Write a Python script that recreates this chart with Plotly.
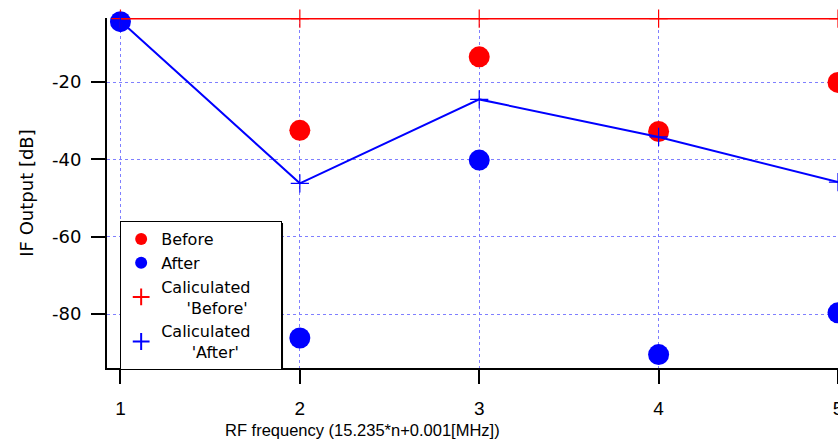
import plotly.graph_objects as go

x_n = [1, 2, 3, 4, 5]
before = [-3.1, -32.5, -13.5, -32.8, -20.1]
after = [-4.4, -86.2, -40.2, -90.5, -79.7]
calc_before = [-3.6, -3.6, -3.6, -3.6, -3.6]
calc_after = [-4.2, -46.2, -24.5, -34.2, -45.9]

y_ticks = [-80, -60, -40, -20]
y_tick_text = ["-80", "-60", "-40", "-20"]
x_ticks = [1, 2, 3, 4, 5]

RED = "#ff0000"
BLUE = "#0000ff"
NB = "\u00a0"
SANS = "Liberation Sans, Arial, sans-serif"

fig = go.Figure()
fig.add_trace(go.Scatter(x=x_n, y=before, mode="markers", name="Before" + NB * 5,
                         marker=dict(color=RED, size=21), cliponaxis=False))
fig.add_trace(go.Scatter(x=x_n, y=after, mode="markers", name="After",
                         marker=dict(color=BLUE, size=21), cliponaxis=False))
fig.add_trace(go.Scatter(x=x_n, y=calc_before, mode="lines+markers", showlegend=False,
                         line=dict(color=RED, width=2),
                         marker=dict(symbol="cross-thin-open", size=13, color=RED,
                                     line=dict(color=RED, width=1.2)),
                         cliponaxis=False))
fig.add_trace(go.Scatter(x=x_n, y=calc_after, mode="lines+markers", showlegend=False,
                         line=dict(color=BLUE, width=2),
                         marker=dict(symbol="cross-thin-open", size=13, color=BLUE,
                                     line=dict(color=BLUE, width=1.2)),
                         cliponaxis=False))
# legend-only entries for the calculated series
fig.add_trace(go.Scatter(x=[None], y=[None], mode="markers",
                         name="Caliculated" + NB * 5 + "<br>" + NB * 5 + "'Before'",
                         marker=dict(symbol="cross-thin-open", size=14, color=RED,
                                     line=dict(color=RED, width=2))))
fig.add_trace(go.Scatter(x=[None], y=[None], mode="markers",
                         name="Caliculated<br>" + NB * 6 + "'After'",
                         marker=dict(symbol="cross-thin-open", size=14, color=BLUE,
                                     line=dict(color=BLUE, width=2))))

axis_common = dict(
    showline=True, linecolor="black", linewidth=2,
    ticks="outside", ticklen=14, tickwidth=2, tickcolor="black",
    showgrid=True, gridcolor="#7f7fff", gridwidth=1, griddash="dot",
    zeroline=False, automargin=False,
)

fig.update_layout(
    width=838, height=445,
    margin=dict(l=107, r=0, t=18, b=77),
    paper_bgcolor="white", plot_bgcolor="white",
    showlegend=True,
    legend=dict(
        x=0.018, y=0.42, xanchor="left", yanchor="top",
        bgcolor="white", bordercolor="black", borderwidth=1,
        font=dict(family="DejaVu Sans", size=16, color="black"),
        itemsizing="constant", tracegroupgap=0, itemwidth=30,
    ),
    xaxis=dict(
        range=[0.925, 5.0], tickvals=x_ticks,
        tickfont=dict(family=SANS, size=19, color="black"),
        ticklabelstandoff=8, ticklabeloverflow="allow",
        **axis_common,
    ),
    yaxis=dict(
        range=[-93.96, -3.45], tickvals=y_ticks, ticktext=y_tick_text,
        tickfont=dict(family="DejaVu Sans", size=18, color="black"),
        ticklabelstandoff=6,
        title=dict(text="IF Output [dB]",
                   font=dict(family="DejaVu Sans", size=18, color="black"),
                   standoff=14),
        **axis_common,
    ),
    annotations=[dict(
        text="RF frequency (15.235*n+0.001[MHz])",
        xref="paper", yref="paper", x=0.349, y=-0.177,
        xanchor="center", yanchor="middle", showarrow=False,
        font=dict(family=SANS, size=16.5, color="black"),
    )],
    shapes=[dict(  # legend drop shadow
        type="rect", xref="paper", yref="paper", layer="above",
        x0=0.0219, x1=0.2408, y0=-0.0057, y1=0.414,
        fillcolor="black", line=dict(width=0),
    )],
)

fig.write_html("out.html", config={"displayModeBar": False},
               post_script="document.body.style.margin='0';")
